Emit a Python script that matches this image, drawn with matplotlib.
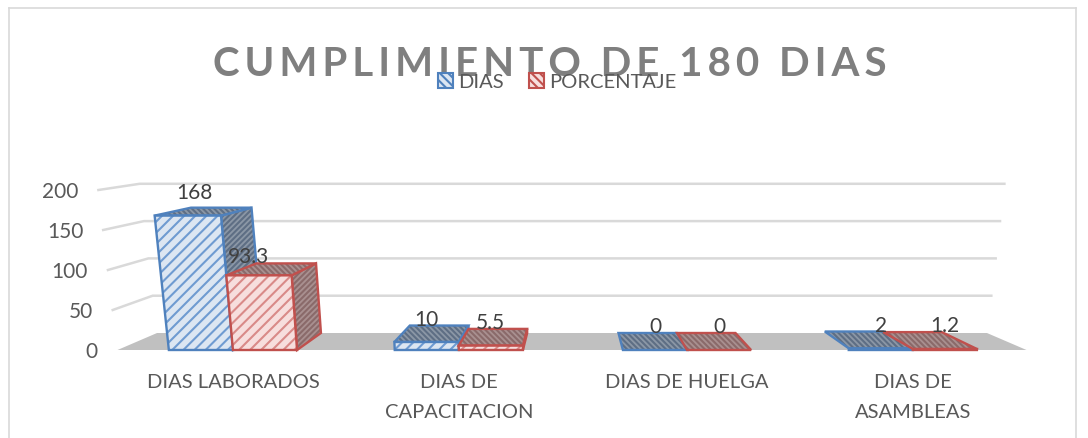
import matplotlib
matplotlib.use('Agg')
import matplotlib.pyplot as plt
from matplotlib.patches import Polygon

# Values
categories = ['DIAS LABORADOS', 'DIAS DE\nCAPACITACION', 'DIAS DE HUELGA', 'DIAS DE\nASAMBLEAS']
dias = [168, 10, 0, 2]
porcentaje = [93.3, 5.5, 0, 1.2]
value_ticks = [0, 50, 100, 150, 200]
title = 'CUMPLIMIENTO DE 180 DIAS'

plt.rcParams['font.family'] = ['Lato', 'DejaVu Sans']
plt.rcParams['hatch.linewidth'] = 1.5

TEXT = '#595959'
BLUE = '#4F81BD'
RED = '#C0504D'


def project(x, v, d):
    # x: -1..1 across the floor, v: chart value, d: 0 front, 1 back
    sx = 572 + x * 454.5 * (1 + 0.00021 * v) * (1 - 0.087 * d)
    sy = 350 - 17 * d - v * (0.8 - 0.054 * d)
    return sx, sy


fig = plt.figure(figsize=(10.88, 4.38), dpi=100)
ax = fig.add_axes([0, 0, 1, 1])
ax.set_xlim(0, 1088)
ax.set_ylim(438, 0)
ax.axis('off')

# chart border
ax.plot([9, 9], [438, 8], color='#D9D9D9', lw=1.2)
ax.plot([9, 1076], [8, 8], color='#D9D9D9', lw=1.2)
ax.plot([1076, 1076], [8, 438], color='#D9D9D9', lw=1.2)

# floor
floor = [project(-1, 0, 0), project(1, 0, 0), project(1, 0, 1), project(-1, 0, 1)]
ax.add_patch(Polygon(floor, closed=True, fc='#C0C0C0', ec='none', zorder=1))

# gridlines on the back wall with their return on the left wall
for v in value_ticks:
    if v > 0:
        pts = [project(-1, v, 0), project(-1, v, 1), project(1, v, 1)]
        ax.plot([p[0] for p in pts], [p[1] for p in pts], color='#D9D9D9', lw=1.8, zorder=1)
    sx, sy = project(-1, v, 0)
    ax.text(sx - 20, sy + 2, str(v), ha='right', va='center', fontsize=15, color=TEXT)


def face(pts, fc, hatch_color, hatch, edge, z):
    # hatch colour follows ec, so the outline goes on as its own patch
    ax.add_patch(Polygon(pts, closed=True, fc=fc, ec=hatch_color, lw=0, hatch=hatch, zorder=z))
    ax.add_patch(Polygon(pts, closed=True, fill=False, ec=edge, lw=1.7, zorder=z + 0.01))


def draw_bar(x0, x1, v, color, pale, front_hatch, side_fc, side_hatch, z):
    front = [project(x0, 0, 0), project(x1, 0, 0), project(x1, v, 0), project(x0, v, 0)]
    side = [project(x1, 0, 0), project(x1, 0, 1), project(x1, v, 1), project(x1, v, 0)]
    top = [project(x0, v, 0), project(x1, v, 0), project(x1, v, 1), project(x0, v, 1)]
    if v > 0 and x1 < 0:
        face(side, side_fc, side_hatch, '//////', color, z)
    face(top, side_fc, side_hatch, '\\\\\\\\\\\\', color, z + 0.02)
    if v > 0:
        face(front, pale, front_hatch, '///', color, z + 0.04)


width = 0.141
centers = [-0.746, -0.249, 0.253, 0.75]
label_dx = [[7, 0, 0, 0], [-10, 0, 0, 0]]
label_dy = [[-9, 0, 0, 0], [0, 0, 0, 0]]

for i, c in enumerate(centers):
    draw_bar(c - width, c, dias[i], BLUE, '#DCE6F2', '#6F9BD1', '#8B97A6', '#5E6E84', 3 + i)
    draw_bar(c, c + width, porcentaje[i], RED, '#F7DEDD', '#D98A88', '#A99090', '#8A6A6A', 3.5 + i)

    # data labels
    for j, (vals, xm) in enumerate([(dias, c - width / 2), (porcentaje, c + width / 2)]):
        sx, _ = project(xm, vals[i], 0)
        sy = 327 - 0.746 * vals[i]
        ax.text(sx + label_dx[j][i], sy + label_dy[j][i], str(vals[i]), ha='center', va='center',
                fontsize=15, color='#404040', zorder=20)

    # category labels
    sx, _ = project(c, 0, 0)
    ax.text(sx, 383, categories[i].split('\n')[0], ha='center', va='center', fontsize=14.5, color=TEXT)
    if '\n' in categories[i]:
        ax.text(sx, 413, categories[i].split('\n')[1], ha='center', va='center', fontsize=14.5, color=TEXT)

# title, letter spaced with thin spaces
ax.text(550, 64, '\u2009'.join(title), ha='center', va='center', fontsize=29,
        fontweight='bold', color='#7F7F7F', zorder=10)

# legend
ax.add_patch(Polygon([(438, 73), (453, 73), (453, 88), (438, 88)], closed=True, fc='#DCE6F2', ec=BLUE,
                     lw=1.5, hatch='\\\\\\\\', zorder=11))
ax.text(458, 83, 'DIAS', ha='left', va='center', fontsize=14.5, color=TEXT, zorder=11)
ax.add_patch(Polygon([(529, 73), (544, 73), (544, 88), (529, 88)], closed=True, fc='#F7DEDD', ec=RED,
                     lw=1.5, hatch='\\\\\\\\', zorder=11))
ax.text(549, 83, 'PORCENTAJE', ha='left', va='center', fontsize=14.5, color=TEXT, zorder=11)

fig.savefig('out.png', dpi=100)
